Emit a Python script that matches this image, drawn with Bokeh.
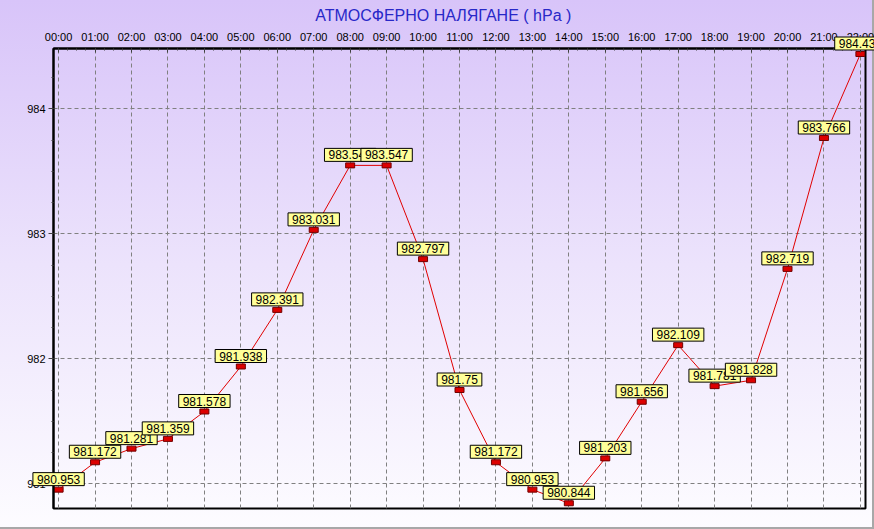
import numpy as np
from bokeh.plotting import figure
from bokeh.models import ColumnDataSource, Label, FixedTicker, Range1d
from bokeh.embed import file_html
from bokeh.resources import INLINE

hours = ["00:00", "01:00", "02:00", "03:00", "04:00", "05:00", "06:00", "07:00",
         "08:00", "09:00", "10:00", "11:00", "12:00", "13:00", "14:00", "15:00",
         "16:00", "17:00", "18:00", "19:00", "20:00", "21:00", "22:00"]
pressure = [980.953, 981.172, 981.281, 981.359, 981.578, 981.938, 982.391, 983.031,
            983.547, 983.547, 982.797, 981.75, 981.172, 980.953, 980.844, 981.203,
            981.656, 982.109, 981.781, 981.828, 982.719, 983.766, 984.438]
y_ticks = [981, 982, 983, 984]
title_text = "АТМОСФЕРНО НАЛЯГАНЕ  ( hPa )"

FONT = "Liberation Sans"

# canvas / frame geometry
W, H = 874, 529
L, R, T, B = 53, 9, 48, 21
x_lo, x_hi = -0.14, 22.14
y_lo, y_hi = 980.802, 984.482

xs = list(range(len(hours)))
src = ColumnDataSource(dict(x=xs, y=pressure))

p = figure(width=W, height=H, output_backend="svg", toolbar_location=None, title=None,
           x_range=Range1d(x_lo, x_hi), y_range=Range1d(y_lo, y_hi),
           x_axis_location="above",
           min_border_left=L, min_border_right=R, min_border_top=T, min_border_bottom=B)

p.background_fill_alpha = 0
p.border_fill_alpha = 0
p.styles = {"background": "linear-gradient(to bottom, #d8c4f9 0%, #ece3fc 50%, #fdfcff 100%)",
            "box-shadow": "inset -2px -2px 0 #a8a8a8"}
p.outline_line_color = "black"
p.outline_line_width = 2

xa = p.xaxis[0]
xa.ticker = FixedTicker(ticks=xs, minor_ticks=list(np.arange(0, len(hours) - 0.99, 0.25)))
xa.major_label_overrides = {i: h for i, h in enumerate(hours)}
xa.major_tick_in = 4
xa.major_tick_out = 0
xa.minor_tick_in = 2
xa.minor_tick_out = 0
xa.major_label_standoff = 6

ya = p.yaxis[0]
ya.ticker = FixedTicker(ticks=y_ticks, minor_ticks=list(np.arange(980.75, 984.5, 0.25)))
ya.major_tick_out = 5
ya.major_tick_in = 0
ya.minor_tick_out = 2
ya.minor_tick_in = 0
ya.major_label_standoff = 3

for ax in (xa, ya):
    ax.axis_line_width = 2
    ax.axis_line_color = "black"
    ax.major_tick_line_color = "#404040"
    ax.minor_tick_line_color = "#404040"
    ax.major_label_text_font = FONT
    ax.major_label_text_font_size = "11px"
    ax.major_label_text_color = "black"

for g in (p.xgrid[0], p.ygrid[0]):
    g.grid_line_color = "#808080"
    g.grid_line_dash = "4 3"
    g.grid_line_width = 1

p.line("x", "y", source=src, line_color="#e00000", line_width=1)
p.rect("x", "y", width=9, height=5, width_units="screen", height_units="screen",
       fill_color="#dd0000", line_color="#700000", line_width=1, source=src)

# transparent overlay figure whose frame covers the whole canvas, with the same
# data-to-pixel mapping, so that value labels may extend past the plot frame
ppx = (W - L - R) / (x_hi - x_lo)
ppy = (H - T - B) / (y_hi - y_lo)
q = figure(width=W, height=H, output_backend="svg", toolbar_location=None, title=None,
           x_range=Range1d(x_lo - L / ppx, x_hi + R / ppx),
           y_range=Range1d(y_lo - B / ppy, y_hi + T / ppy),
           x_axis_type=None, y_axis_type=None, min_border=0)
q.outline_line_color = None
q.background_fill_alpha = 0
q.border_fill_alpha = 0
q.styles = {"position": "absolute", "top": "0px", "left": "0px"}

for xv, yv in zip(xs, pressure):
    q.add_layout(Label(x=xv, y=yv, text="{:g}".format(yv), text_align="center",
                       text_baseline="bottom", y_offset=4,
                       text_font=FONT, text_font_size="12px", text_color="black",
                       background_fill_color="#ffff99", border_line_color="black",
                       border_line_width=1, padding=(4, 2)))

q.add_layout(Label(x=445, y=H - 15, x_units="screen", y_units="screen", text=title_text,
                   text_align="center", text_baseline="middle", text_font=FONT,
                   text_font_size="16px", text_color="#2828c8"))

open("out.html", "w").write(file_html([p, q], INLINE))
